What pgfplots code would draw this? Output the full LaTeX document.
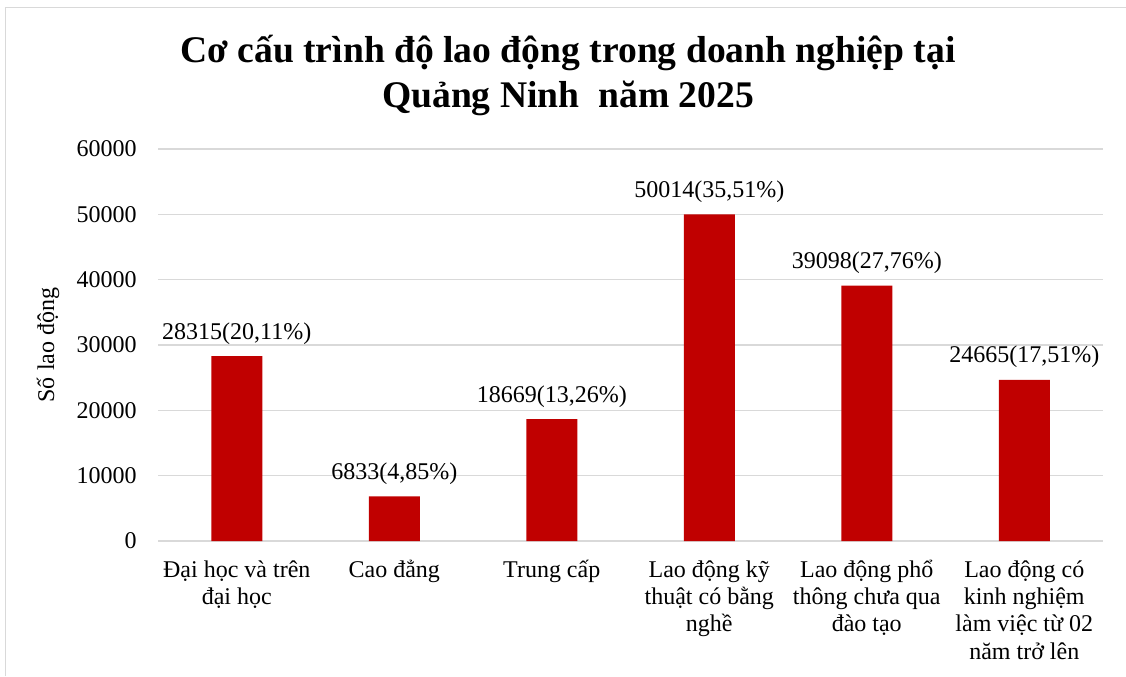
\documentclass[border=0pt]{standalone}
\usepackage{pgfplots}
\pgfplotsset{compat=1.18}
\usepackage{fontspec}
\setmainfont{Liberation Serif}
\definecolor{barred}{HTML}{C00000}
\definecolor{gridgray}{HTML}{D9D9D9}
\newcommand{\fl}{\rule{0pt}{17pt}}
\begin{document}
\begin{tikzpicture}
\path[use as bounding box] (0,0) rectangle (844.5pt,507pt);
\draw[gridgray, line width=1.4pt] (4.1pt,0) -- (4.1pt,501.4pt) -- (844.5pt,501.4pt);
\node[font=\bfseries\fontsize{28.2}{33.75}\selectfont, align=center, anchor=base] at (426pt,426pt) {Cơ cấu trình độ lao động trong doanh nghiệp tại\\Quảng Ninh\ \ năm 2025};
\begin{axis}[
  at={(118.5pt,101.25pt)}, anchor=south west,
  scale only axis, width=708.75pt, height=294pt,
  xmin=-0.5, xmax=5.5, ymin=0, ymax=60000,
  ytick={0,10000,...,60000},
  xtick={0,1,2,3,4,5},
  xticklabels={{\fl Đại học và trên\\đại học},{\fl Cao đẳng},{\fl Trung cấp},{\fl Lao động kỹ\\thuật có bằng\\nghề},{\fl Lao động phổ\\thông chưa qua\\đào tạo},{\fl Lao động có\\kinh nghiệm\\làm việc từ 02\\năm trở lên}},
  scaled y ticks=false,
  /pgf/number format/1000 sep={},
  /pgf/number format/assume math mode=true,
  major tick length=0pt,
  axis line style={draw=none},
  ymajorgrids, grid style={gridgray, line width=1.1pt},
  yticklabel style={font=\fontsize{18}{21}\selectfont, anchor=east, inner sep=0pt, xshift=-15.75pt},
  xticklabel style={font=\fontsize{18}{20.5}\selectfont, align=center, anchor=north, inner sep=0pt, yshift=-10pt},
  ylabel={Số lao động},
  every axis y label/.style={at={(axis description cs:-0.1164,0.5)}, rotate=90, anchor=center, font=\fontsize{18}{21}\selectfont},
  point meta=explicit symbolic,
  nodes near coords,
  every node near coord/.append style={font=\fontsize{18}{21}\selectfont, anchor=base, inner sep=0pt, yshift=12.75pt, text=black},
  clip=false,
]
\addplot[ybar, bar width=38.25pt, fill=barred, draw=none] coordinates {
  (0,28315) [28315(20,11\%)]
  (1,6833) [6833(4,85\%)]
  (2,18669) [18669(13,26\%)]
  (3,50014) [50014(35,51\%)]
  (4,39098) [39098(27,76\%)]
  (5,24665) [24665(17,51\%)]
};
\end{axis}
\end{tikzpicture}
\end{document}
